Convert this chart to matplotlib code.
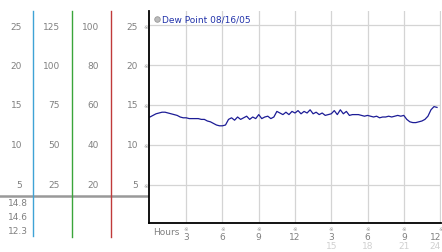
import numpy as np
import matplotlib.pyplot as plt

# dew point readings every 15 minutes, 08/16/05
dew_point = [
    13.5, 13.7, 13.9, 14.0, 14.1, 14.1, 14.0, 13.9,
    13.8, 13.7, 13.5, 13.4, 13.4, 13.3, 13.3, 13.3,
    13.3, 13.2, 13.2, 13.0, 12.9, 12.7, 12.5, 12.4,
    12.4, 12.5, 13.2, 13.4, 13.1, 13.5, 13.2, 13.4,
    13.6, 13.2, 13.5, 13.3, 13.8, 13.3, 13.5, 13.6,
    13.3, 13.5, 14.2, 14.0, 13.8, 14.1, 13.8, 14.2,
    14.0, 14.3, 13.9, 14.2, 14.0, 14.4, 13.9, 14.1,
    13.8, 14.0, 13.7, 13.8, 13.9, 14.3, 13.8, 14.4,
    13.9, 14.2, 13.7, 13.8, 13.8, 13.8, 13.7, 13.6,
    13.7, 13.6, 13.5, 13.6, 13.4, 13.5, 13.5, 13.6,
    13.5, 13.6, 13.7, 13.6, 13.7, 13.2, 12.9, 12.8,
    12.8, 12.9, 13.0, 13.2, 13.6, 14.4, 14.8, 14.7,
]
hours = np.arange(len(dew_point)) * 0.25

y_ticks = [5, 10, 15, 20, 25]
x_ticks = [3, 6, 9, 12, 15, 18, 21, 24]
x_labels = ["3", "6", "9", "12", "3", "6", "9", "12"]
x_labels2 = {15: "15", 18: "18", 21: "21", 24: "24"}

scale_cols = [
    ["25", "20", "15", "10", "5"],
    ["125", "100", "75", "50", "25"],
    ["100", "80", "60", "40", "20"],
    ["25", "20", "15", "10", "5"],
]
stats = ["14.8", "14.6", "12.3"]

W, H = 442, 253
fig = plt.figure(figsize=(W / 100, H / 100), dpi=100)

# main plot, placed in pixel terms
L, R, T, B = 149, 441, 12, 224
ax = fig.add_axes([L / W, 1 - B / H, (R - L) / W, (B - T) / H])
ax.plot(hours, dew_point, color="#1c1c96", lw=0.9)
ax.set_xlim(-0.08, 24.08)
ax.set_ylim(0.25, 26.75)
for y in y_ticks:
    ax.axhline(y, color="#d4d4d4", lw=0.9, zorder=0)
for x in x_ticks:
    ax.axvline(x, color="#d4d4d4", lw=0.9, zorder=0)
ax.set_xticks([])
ax.set_yticks([])
for s in ["top", "right"]:
    ax.spines[s].set_visible(False)
ax.spines["left"].set_linewidth(1.3)
ax.spines["bottom"].set_linewidth(1.3)

# legend text
ax.plot([0.6], [25.8], "o", ms=4, mfc="#bbbbbb", mec="#999999", mew=0.6, clip_on=False)
ax.text(1.0, 25.8, "Dew Point 08/16/05", color="#2233aa", fontsize=6.5,
        va="center", ha="left")

# overlay in pixel coordinates for the left scale panel and tick labels
ov = fig.add_axes([0, 0, 1, 1], zorder=-1)
ov.set_xlim(0, W)
ov.set_ylim(H, 0)
ov.axis("off")

gray = "#808080"
row_y = [27, 66, 106, 146, 186]
col_right = [22, 60, 99, 138]
for col, xr in zip(scale_cols, col_right):
    for lab, y in zip(col, row_y):
        ov.text(xr, y, lab, ha="right", va="center", fontsize=6.5, color=gray)
for y in row_y:
    ov.text(146, y, "※", ha="center", va="center", fontsize=4, color="#999999")

ov.plot([0, 149], [197, 197], color="#999999", lw=1.8)
ov.plot([33, 33], [12, 237], color="#3fa3d6", lw=1)
ov.plot([72, 72], [12, 238], color="#3aa53a", lw=1)
ov.plot([111, 111], [12, 238], color="#c03a3a", lw=1)
for lab, y in zip(stats, [204, 218, 232]):
    ov.text(28, y, lab, ha="right", va="center", fontsize=6.5, color=gray)

# x tick labels
ov.text(153, 233, "Hours", ha="left", va="center", fontsize=6.5, color=gray)
for x, lab in zip(x_ticks, x_labels):
    px = 150 + x * (290 / 24)
    ha = "center"
    if px > 436:
        px, ha = 441, "right"
    ov.text(px, 230, "※", ha="center", va="center", fontsize=4, color="#999999")
    ov.text(px, 238, lab, ha=ha, va="center", fontsize=6.5, color=gray)
    if x in x_labels2:
        ov.text(px, 247, x_labels2[x], ha=ha, va="center", fontsize=6.5,
                color="#d0d0d0")

plt.savefig("out.png", dpi=100)
